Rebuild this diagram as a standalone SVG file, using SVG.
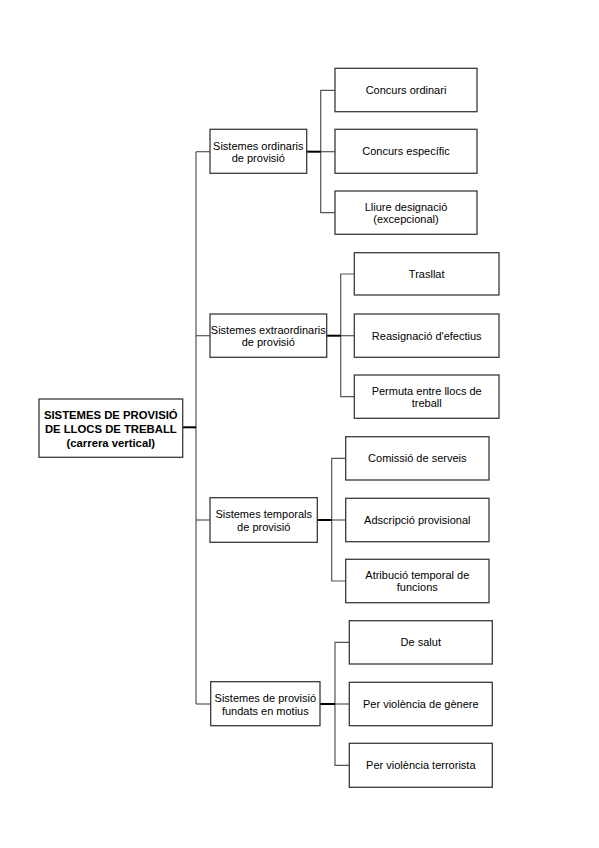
<svg xmlns="http://www.w3.org/2000/svg" width="599" height="848" viewBox="0 0 599 848">
<style>
.box{fill:#ffffff;stroke:#3a3a3a;stroke-width:1.3}
.t{font-family:"Liberation Sans",Arial,sans-serif;font-size:11px;fill:#000;text-anchor:middle}
.tb{font-family:"Liberation Sans",Arial,sans-serif;font-size:11.3px;font-weight:bold;fill:#000;text-anchor:middle}
.c{fill:none;stroke:#555;stroke-width:1.2}
.s{fill:none;stroke:#000;stroke-width:2}
</style>
<rect width="599" height="848" fill="#fff"/>
<g id="connectors">
<line class="c" x1="196" y1="151.7" x2="196" y2="704"/>
<line class="c" x1="196" y1="151.7" x2="210" y2="151.7"/>
<line class="c" x1="196" y1="335.7" x2="210" y2="335.7"/>
<line class="c" x1="196" y1="520" x2="210" y2="520"/>
<line class="c" x1="196" y1="704" x2="210.7" y2="704"/>
<line class="s" x1="182.7" y1="427.3" x2="196" y2="427.3"/>
<polyline class="c" points="335,90.3 320.7,90.3 320.7,212.7 335,212.7"/>
<line class="c" x1="320.7" y1="151.7" x2="335" y2="151.7"/>
<line class="s" x1="306.7" y1="151.7" x2="320.7" y2="151.7"/>
<polyline class="c" points="354.3,274 340.7,274 340.7,396.7 354.3,396.7"/>
<line class="c" x1="340.7" y1="335.7" x2="354.3" y2="335.7"/>
<line class="s" x1="326.7" y1="335.7" x2="340.7" y2="335.7"/>
<polyline class="c" points="345.7,458.3 331.7,458.3 331.7,581 345.7,581"/>
<line class="c" x1="331.7" y1="520" x2="345.7" y2="520"/>
<line class="s" x1="317.3" y1="520" x2="331.7" y2="520"/>
<polyline class="c" points="349.3,642.3 335,642.3 335,765.3 349.3,765.3"/>
<line class="c" x1="335" y1="704" x2="349.3" y2="704"/>
<line class="s" x1="320" y1="704" x2="335" y2="704"/>
</g>
<g id="root">
<rect class="box" x="39" y="399" width="143.7" height="58.3"/>
<text class="tb" x="110.8" y="419">SISTEMES DE PROVISIÓ</text>
<text class="tb" x="110.8" y="433">DE LLOCS DE TREBALL</text>
<text class="tb" x="110.8" y="447">(carrera vertical)</text>
</g>
<g id="ordinaris">
<rect class="box" x="210" y="129.3" width="96.7" height="44"/>
<text class="t" x="258.3" y="149.5">Sistemes ordinaris</text>
<text class="t" x="258.3" y="162">de provisió</text>
</g>
<g id="concurs-ordinari">
<rect class="box" x="335" y="68.3" width="142" height="43.4"/>
<text class="t" x="406" y="94">Concurs ordinari</text>
</g>
<g id="concurs-especific">
<rect class="box" x="335" y="129.3" width="142" height="44"/>
<text class="t" x="406" y="155.3">Concurs específic</text>
</g>
<g id="lliure-designacio">
<rect class="box" x="335" y="191" width="142" height="43.3"/>
<text class="t" x="406" y="210.5">Lliure designació</text>
<text class="t" x="406" y="222.5">(excepcional)</text>
</g>
<g id="extraordinaris">
<rect class="box" x="210" y="314" width="116.7" height="43.3"/>
<text class="t" x="268.3" y="333.5">Sistemes extraordinaris</text>
<text class="t" x="268.3" y="346">de provisió</text>
</g>
<g id="trasllat">
<rect class="box" x="354.3" y="252.7" width="144.7" height="42.3"/>
<text class="t" x="426.7" y="277.8">Trasllat</text>
</g>
<g id="reasignacio">
<rect class="box" x="354.3" y="314" width="144.7" height="43.3"/>
<text class="t" x="426.7" y="339.5">Reasignació d'efectius</text>
</g>
<g id="permuta">
<rect class="box" x="354.3" y="375" width="144.7" height="43.3"/>
<text class="t" x="426.7" y="394.5">Permuta entre llocs de</text>
<text class="t" x="426.7" y="407">treball</text>
</g>
<g id="temporals">
<rect class="box" x="210" y="497.7" width="107.3" height="44.6"/>
<text class="t" x="263.7" y="518">Sistemes temporals</text>
<text class="t" x="263.7" y="530.5">de provisió</text>
</g>
<g id="comissio">
<rect class="box" x="345.7" y="436.7" width="143.3" height="43.3"/>
<text class="t" x="417.3" y="462">Comissió de serveis</text>
</g>
<g id="adscripcio">
<rect class="box" x="345.7" y="498.3" width="143.3" height="43.4"/>
<text class="t" x="417.3" y="523.8">Adscripció provisional</text>
</g>
<g id="atribucio">
<rect class="box" x="345.7" y="559.3" width="143.3" height="43.4"/>
<text class="t" x="417.3" y="578.8">Atribució temporal de</text>
<text class="t" x="417.3" y="591.3">funcions</text>
</g>
<g id="motius">
<rect class="box" x="210.7" y="681.7" width="109.3" height="44"/>
<text class="t" x="265.3" y="702">Sistemes de provisió</text>
<text class="t" x="265.3" y="714.5">fundats en motius</text>
</g>
<g id="salut">
<rect class="box" x="349.3" y="620.7" width="143" height="43.3"/>
<text class="t" x="420.8" y="646">De salut</text>
</g>
<g id="genere">
<rect class="box" x="349.3" y="682.3" width="143" height="43.4"/>
<text class="t" x="420.8" y="708">Per violència de gènere</text>
</g>
<g id="terrorista">
<rect class="box" x="349.3" y="743.3" width="143" height="44"/>
<text class="t" x="420.8" y="769">Per violència terrorista</text>
</g>
</svg>
